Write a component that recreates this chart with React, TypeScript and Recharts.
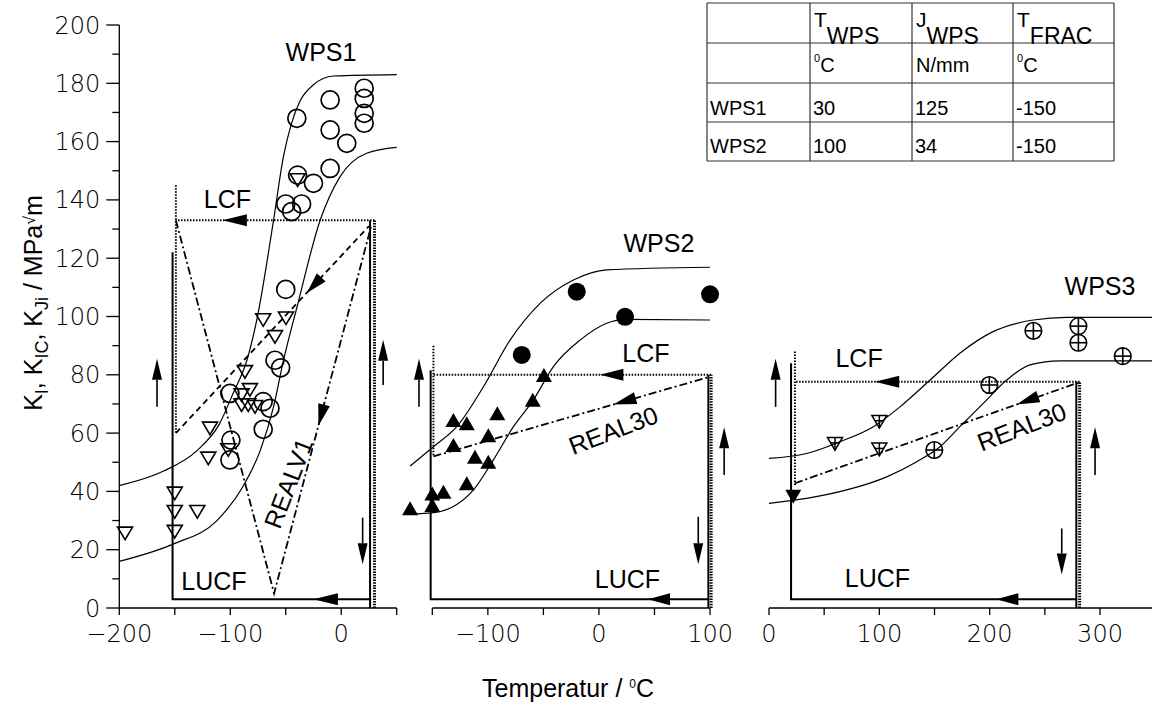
import React from "react";
import { ComposedChart, Line, Scatter, XAxis, YAxis, ReferenceLine, ReferenceDot } from "recharts";

// values: temperature in °C, K in MPa√m
const wps1Upper = [[-200, 42], [-160, 47], [-130, 54], [-110, 63], [-97, 74], [-85, 85], [-76, 99], [-61, 133], [-52, 155], [-45, 166], [-37, 174], [-25, 179.5], [-7, 182.5], [50, 183]];
const wps1Lower = [[-200, 16], [-151, 22], [-112, 30], [-88, 42], [-73, 54], [-61, 69], [-52, 85], [-40, 103], [-19, 133], [-1, 148], [23, 156], [50, 158]];
const wps1Circles = [[-40, 168], [-10, 174.3], [20.7, 178.3], [20.7, 174.8], [20.7, 169.7], [20.7, 166.3], [-10, 164], [5, 159.4], [-10, 150.8], [-25, 145.7], [-39.3, 148.5], [-50, 138.6], [-35.7, 138.6], [-44.7, 136], [-50, 109.3], [-59.7, 85], [-54.6, 82.4], [-100.3, 73.6], [-70.3, 70.8], [-64.2, 68.5], [-70.3, 61.3], [-99.4, 57.6], [-100.3, 50.8]];
const wps1Triangles = [[-194.8, 25.6], [-150, 39.3], [-150, 33], [-150, 26.2], [-129.7, 33], [-119.8, 51.3], [-118.3, 61.6], [-86.8, 81], [-82.3, 74.8], [-89.8, 73], [-89.8, 69.6], [-83.8, 69.6], [-77.7, 69], [-101.8, 54.2], [-70.3, 98.8], [-49.8, 99.4], [-59.7, 93], [-39.3, 146.8]];
const p1Lucf = [[-152, 122], [-152, 3], [27, 3]];
const p1RightSolid = [[26, 0], [26, 133]];
const p1RightDotted = [[30, 0], [30, 133]];
const p1Lcf = [[30, 133], [-149, 133]];
const p1LcfVert = [[-149, 145], [-149, 60]];
const p1Dashed = [[-149, 60], [25, 131]];
const p1Realv1 = [[-149, 133], [-60.5, 5], [27, 131]];
const p1Arrows = [[-166, 69, -166, 85.5], [19.3, 31, 19.3, 15], [37.8, 76.5, 37.8, 92]];
const p1Heads = [[-85, 133, -107, 133], [-3, 3, -25, 3], [-18, 113.4, -31, 108.1], [-15.5, 69.7, -20.5, 62.5]];
const p1Labels = [{ t: -18.2, k: 190.9, text: "WPS1" }, { t: -102.5, k: 140.3, text: "LCF" }, { t: -114.7, k: 9.3, text: "LUCF" }, { t: -47.7, k: 42.8, text: "REALV1" }];

const wps2Upper = [[-170, 48.7], [-149, 55.3], [-128, 62.2], [-104, 75.9], [-80, 91.9], [-53, 104.5], [-23, 112.5], [7, 116], [100, 116.9]];
const wps2Lower = [[-170, 32.2], [-149, 32.7], [-131, 34.8], [-113, 40.5], [-95, 50.8], [-77, 62.2], [-59, 71.4], [-41, 82.8], [-17, 91.9], [7, 97.7], [25, 99], [100, 98.8]];
const wps2Circles = [[-20, 108.5], [100, 107.6], [23.5, 99.9], [-69.5, 86.8]];
const wps2Triangles = [[-170, 34.2], [-150, 35.3], [-150, 39.3], [-140, 39.9], [-119, 42.8], [-131, 64.5], [-119, 63.4], [-131, 55.9], [-111.6, 51.9], [-99.6, 59.3], [-99.6, 50.2], [-91.5, 66.8], [-59.6, 71.4], [-49.5, 79.9]];
const p2Lucf = [[-151.5, 81.6], [-151.5, 3], [98.5, 3]];
const p2RightSolid = [[98.5, 0], [98.5, 80]];
const p2RightDotted = [[101, 0], [101, 80]];
const p2Lcf = [[101, 80], [-149, 80]];
const p2LcfVert = [[-149, 90], [-149, 52]];
const p2Real30 = [[-149, 52], [99.5, 79.3]];
const p2Arrows = [[-162, 69, -162, 85.5], [89.4, 31.3, 89.4, 15], [112.7, 45.6, 112.7, 62]];
const p2Heads = [[22, 80, 1, 80], [64, 3, 44, 3], [33, 72.0, 13, 69.8]];
const p2Labels = [{ t: 54, k: 125.2, text: "WPS2" }, { t: 42.3, k: 87.6, text: "LCF" }, { t: 12.9, k: 61, text: "REAL30" }, { t: 25.7, k: 9.9, text: "LUCF" }];

const wps3Upper = [[0, 51.3], [34, 53], [64, 57], [94.6, 62.2], [118.7, 69], [146, 78.2], [173, 87.4], [203, 94.8], [239.6, 98.8], [269.8, 99.7], [350, 99.7]];
const wps3Lower = [[0, 35.9], [34, 37.6], [70.4, 40.5], [106.7, 45], [133.9, 50.2], [155, 55.3], [173, 62.2], [194.2, 70.2], [215.4, 78.2], [236.6, 83.4], [263.8, 84.8], [350, 84.8]];
const wps3Circles = [[239.6, 95.1], [280.4, 96.7], [280.4, 91], [320.6, 86.4], [199.7, 76.5], [149.8, 54.2]];
const wps3Triangles = [[59.8, 56.3], [100, 63.9], [100, 54.4]];
const wps3Filled = [[22, 38.2]];
const p3Lucf = [[20, 84], [20, 3], [278.5, 3]];
const p3RightSolid = [[278.5, 0], [278.5, 77.6]];
const p3RightDotted = [[281.5, 0], [281.5, 77.6]];
const p3Lcf = [[281.5, 77.6], [23.5, 77.6]];
const p3LcfVert = [[23.5, 88], [23.5, 42]];
const p3Real30 = [[23.5, 42.8], [280, 77.3]];
const p3Arrows = [[6, 69, 6, 85.5], [265.3, 27.3, 265.3, 11.5], [295.5, 45.6, 295.5, 62]];
const p3Heads = [[118, 77.6, 96, 77.6], [226, 3, 206, 3], [244, 72.5, 224.5, 69.8]];
const p3Labels = [{ t: 300, k: 110.5, text: "WPS3" }, { t: 81.6, k: 85.9, text: "LCF" }, { t: 229, k: 62.2, text: "REAL30" }, { t: 98.3, k: 10.3, text: "LUCF" }];

const tableHeader = [["T", "WPS"], ["J", "WPS"], ["T", "FRAC"]];
const tableUnits = [["0", "C"], ["", "N/mm"], ["0", "C"]];
const tableRows = [["WPS1", "30", "125", "-150"], ["WPS2", "100", "34", "-150"]];

const yTicks = [0, 10, 20, 30, 40, 50, 60, 70, 80, 90, 100, 110, 120, 130, 140, 150, 160, 170, 180, 190, 200];

const SANS = "'Liberation Sans', Arial, sans-serif";
const LIGHT = "'DejaVu Sans', sans-serif";
const INK = "#000";
const labelAngle: Record<string, number> = { REALV1: -69, REAL30: -21 };

const pts = (a: number[][]) => a.map(([t, k]) => ({ t, k }));

const tri = (cx: number, cy: number, hw: number, hh: number, down: boolean) =>
  down
    ? `${cx - hw},${cy - hh} ${cx + hw},${cy - hh} ${cx},${cy + hh}`
    : `${cx - hw},${cy + hh} ${cx + hw},${cy + hh} ${cx},${cy - hh}`;

const shapes: Record<string, (p: any) => React.ReactElement> = {
  openCircle: (p) => <circle cx={p.cx} cy={p.cy} r={9} fill="none" stroke={INK} strokeWidth={1.7} />,
  openTri: (p) => <polygon points={tri(p.cx, p.cy, 7.5, 6.3, true)} fill="none" stroke={INK} strokeWidth={1.6} />,
  filledCircle: (p) => <circle cx={p.cx} cy={p.cy} r={9} fill={INK} />,
  filledTri: (p) => <polygon points={tri(p.cx, p.cy, 8, 7, false)} fill={INK} />,
  filledTriDown: (p) => <polygon points={tri(p.cx, p.cy, 8, 7, true)} fill={INK} />,
  circlePlus: (p) => (
    <g fill="none" stroke={INK} strokeWidth={1.6}>
      <circle cx={p.cx} cy={p.cy} r={8.3} />
      <line x1={p.cx - 8.3} y1={p.cy} x2={p.cx + 8.3} y2={p.cy} />
      <line x1={p.cx} y1={p.cy - 8.3} x2={p.cx} y2={p.cy + 8.3} />
    </g>
  ),
  triPlus: (p) => (
    <g fill="none" stroke={INK} strokeWidth={1.5}>
      <polygon points={tri(p.cx, p.cy, 7.5, 6.3, true)} />
      <line x1={p.cx} y1={p.cy - 6.3} x2={p.cx} y2={p.cy + 6.3} />
      <line x1={p.cx - 4.8} y1={p.cy - 1} x2={p.cx + 4.8} y2={p.cy - 1} />
    </g>
  ),
};

const lineStyles: Record<string, { w: number; dash?: string }> = {
  curve: { w: 1.2 },
  solid: { w: 2 },
  dotted: { w: 2, dash: "1.5 1.5" },
  thickDotted: { w: 3, dash: "1.5 1.2" },
  dashed: { w: 1.8, dash: "6 4" },
  dashdot: { w: 1.8, dash: "8 3 2 3" },
};

// arrowhead (optionally with shaft) drawn between the ReferenceLine's end points
const arrowShape = (withShaft: boolean) => (props: any) => {
  const { x1, y1, x2, y2 } = props;
  if ([x1, y1, x2, y2].some((v) => v == null || Number.isNaN(v))) return <g />;
  const dx = x2 - x1;
  const dy = y2 - y1;
  const len = Math.hypot(dx, dy) || 1;
  const ux = dx / len;
  const uy = dy / len;
  const hl = withShaft ? 21 : len;
  const hw = withShaft ? 5 : 6;
  const bx = x2 - ux * hl;
  const by = y2 - uy * hl;
  const poly = `${x2},${y2} ${bx - uy * hw},${by + ux * hw} ${bx + uy * hw},${by - ux * hw}`;
  return (
    <g>
      {withShaft && <line x1={x1} y1={y1} x2={bx} y2={by} stroke={INK} strokeWidth={1.6} />}
      <polygon points={poly} fill={INK} />
    </g>
  );
};

const XTick = (props: any) => {
  const { x, y, payload } = props;
  const v = payload.value as number;
  return (
    <g>
      <line x1={x} y1={y} x2={x} y2={y + 7} stroke={INK} strokeWidth={1.3} />
      {v % 100 === 0 && (
        <text x={x} y={y + 34} textAnchor="middle" fontFamily={LIGHT} fontWeight={200} fontSize={24} fill={INK}>
          {v < 0 ? `\u2212${-v}` : `${v}`}
        </text>
      )}
    </g>
  );
};

const YTick = (props: any) => {
  const { x, y, payload } = props;
  const v = payload.value as number;
  const major = v % 20 === 0;
  return (
    <g>
      <line x1={x - (major ? 13 : 7)} y1={y} x2={x} y2={y} stroke={INK} strokeWidth={1.3} />
      {major && (
        <text x={x - 19} y={y + 8.5} textAnchor="end" fontFamily={LIGHT} fontWeight={200} fontSize={24} fill={INK}>
          {v}
        </text>
      )}
    </g>
  );
};

type PanelCfg = {
  left: number;
  width: number;
  ml: number;
  mr: number;
  domain: [number, number];
  ticks: number[];
  axisSeg?: [number, number];
  showY?: boolean;
  lines: [number[][], string][];
  markers: [number[][], string][];
  arrows: number[][];
  heads: number[][];
  labels: { t: number; k: number; text: string }[];
};

const panels: PanelCfg[] = [
  {
    left: 0, width: 410, ml: 0, mr: 13.3, domain: [-200, 50], ticks: [-200, -150, -100, -50, 0, 50], showY: true,
    lines: [[wps1Upper, "curve"], [wps1Lower, "curve"], [p1Lucf, "solid"], [p1RightSolid, "solid"], [p1RightDotted, "thickDotted"], [p1Lcf, "dotted"], [p1LcfVert, "dotted"], [p1Dashed, "dashed"], [p1Realv1, "dashdot"]],
    markers: [[wps1Circles, "openCircle"], [wps1Triangles, "openTri"]],
    arrows: p1Arrows, heads: p1Heads, labels: p1Labels,
  },
  {
    left: 400, width: 340, ml: 10.1, mr: 13.3, domain: [-170, 115], ticks: [-150, -100, -50, 0, 50, 100], axisSeg: [-150, 100],
    lines: [[wps2Upper, "curve"], [wps2Lower, "curve"], [p2Lucf, "solid"], [p2RightSolid, "solid"], [p2RightDotted, "thickDotted"], [p2Lcf, "dotted"], [p2LcfVert, "dotted"], [p2Real30, "dashdot"]],
    markers: [[wps2Circles, "filledCircle"], [wps2Triangles, "filledTri"]],
    arrows: p2Arrows, heads: p2Heads, labels: p2Labels,
  },
  {
    left: 740, width: 440, ml: 29, mr: 24.8, domain: [0, 350], ticks: [0, 50, 100, 150, 200, 250, 300, 350],
    lines: [[wps3Upper, "curve"], [wps3Lower, "curve"], [p3Lucf, "solid"], [p3RightSolid, "solid"], [p3RightDotted, "thickDotted"], [p3Lcf, "dotted"], [p3LcfVert, "dotted"], [p3Real30, "dashdot"]],
    markers: [[wps3Circles, "circlePlus"], [wps3Triangles, "triPlus"], [wps3Filled, "filledTriDown"]],
    arrows: p3Arrows, heads: p3Heads, labels: p3Labels,
  },
];

function PanelChart({ cfg }: { cfg: PanelCfg }) {
  return (
    <div style={{ position: "absolute", left: cfg.left, top: 0 }}>
      <ComposedChart width={cfg.width} height={704} margin={{ top: 25, right: cfg.mr, bottom: 0, left: cfg.ml }}>
        <XAxis
          dataKey="t"
          type="number"
          domain={cfg.domain}
          ticks={cfg.ticks}
          interval={0}
          height={96}
          tickSize={0}
          tickMargin={0}
          tickLine={false}
          axisLine={cfg.axisSeg ? false : { stroke: INK, strokeWidth: 1.3 }}
          tick={(p: any) => <XTick {...p} />}
        />
        <YAxis
          type="number"
          domain={[0, 200]}
          ticks={yTicks}
          interval={0}
          hide={!cfg.showY}
          width={119.3}
          tickSize={0}
          tickMargin={0}
          tickLine={false}
          axisLine={{ stroke: INK, strokeWidth: 1.3 }}
          tick={(p: any) => <YTick {...p} />}
        />
        {cfg.axisSeg && (
          <ReferenceLine
            segment={[{ x: cfg.axisSeg[0], y: 0 }, { x: cfg.axisSeg[1], y: 0 }]}
            stroke={INK}
            strokeWidth={1.3}
            ifOverflow="visible"
          />
        )}
        {cfg.lines.map(([d, style], i) => (
          <Line
            key={`ln${i}`}
            data={pts(d)}
            dataKey="k"
            type={style === "curve" ? "monotone" : "linear"}
            stroke={INK}
            strokeWidth={lineStyles[style].w}
            strokeDasharray={lineStyles[style].dash}
            dot={false}
            activeDot={false}
            isAnimationActive={false}
          />
        ))}
        {cfg.markers.map(([d, shape], i) => (
          <Scatter key={`sc${i}`} data={pts(d)} dataKey="k" shape={shapes[shape]} isAnimationActive={false} />
        ))}
        {cfg.arrows.map((a, i) => (
          <ReferenceLine key={`ar${i}`} segment={[{ x: a[0], y: a[1] }, { x: a[2], y: a[3] }]} ifOverflow="visible" shape={arrowShape(true)} />
        ))}
        {cfg.heads.map((a, i) => (
          <ReferenceLine key={`hd${i}`} segment={[{ x: a[0], y: a[1] }, { x: a[2], y: a[3] }]} ifOverflow="visible" shape={arrowShape(false)} />
        ))}
        {cfg.labels.map((l, i) => (
          <ReferenceDot
            key={`lb${i}`}
            x={l.t}
            y={l.k}
            ifOverflow="visible"
            shape={(p: any) => {
              const ang = labelAngle[l.text];
              return (
                <text
                  x={p.cx}
                  y={p.cy}
                  dy="0.36em"
                  textAnchor="middle"
                  fontFamily={SANS}
                  fontSize={25}
                  fill={INK}
                  transform={ang ? `rotate(${ang} ${p.cx} ${p.cy})` : undefined}
                >
                  {l.text}
                </text>
              );
            }}
          />
        ))}
      </ComposedChart>
    </div>
  );
}

const colX = [707, 810, 912, 1013, 1114];
const rowY = [3, 43, 83, 122, 161];

function Overlay() {
  return (
    <svg width={1152} height={704} style={{ position: "absolute", left: 0, top: 0, pointerEvents: "none" }}>
      {/* y axis title */}
      <text transform="translate(42,303) rotate(-90)" textAnchor="middle" fontFamily={SANS} fontSize={25} fill={INK}>
        K<tspan dy={6} fontSize={18}>I</tspan>
        <tspan dy={-6}>, K</tspan>
        <tspan dy={6} fontSize={18}>IC</tspan>
        <tspan dy={-6}>, K</tspan>
        <tspan dy={6} fontSize={18}>Ji</tspan>
        <tspan dy={-6}>{"  / MPa"}</tspan>
        <tspan dy={-7} fontSize={16}>√</tspan>
        <tspan dy={7}>m</tspan>
      </text>
      {/* x axis title */}
      <text x={482} y={697} fontFamily={SANS} fontSize={25} fill={INK}>
        {"Temperatur / "}
        <tspan dy={-9} fontSize={12}>0</tspan>
        <tspan dy={9}>C</tspan>
      </text>
      {/* table */}
      <g stroke="#333" strokeWidth={1.2}>
        {rowY.map((y, i) => (
          <line key={`r${i}`} x1={colX[0]} y1={y} x2={colX[colX.length - 1]} y2={y} />
        ))}
        {colX.map((x, i) => (
          <line key={`c${i}`} x1={x} y1={rowY[0]} x2={x} y2={rowY[rowY.length - 1]} />
        ))}
      </g>
      <g fontFamily={SANS} fontSize={20} fill={INK}>
        {tableHeader.map(([m, s], i) => (
          <text key={`h${i}`} x={colX[i + 1] + 4} y={27} fontSize={21}>
            {m}
            <tspan dy={17} fontSize={23}>{s}</tspan>
          </text>
        ))}
        {tableUnits.map(([sup, m], i) => (
          <text key={`u${i}`} x={colX[i + 1] + 4} y={72}>
            {sup && <tspan dy={-10} fontSize={11}>{sup}</tspan>}
            <tspan dy={sup ? 10 : 0}>{m}</tspan>
          </text>
        ))}
        {tableRows.map((row, r) =>
          row.map((cell, c) => (
            <text key={`t${r}-${c}`} x={colX[c] + 3} y={r === 0 ? 115 : 153}>
              {cell}
            </text>
          ))
        )}
      </g>
    </svg>
  );
}

export default function App() {
  return (
    <div style={{ position: "absolute", left: 0, top: 0, width: 1152, height: 704, overflow: "hidden", background: "#fff" }}>
      {panels.map((cfg, i) => (
        <PanelChart key={i} cfg={cfg} />
      ))}
      <Overlay />
    </div>
  );
}
